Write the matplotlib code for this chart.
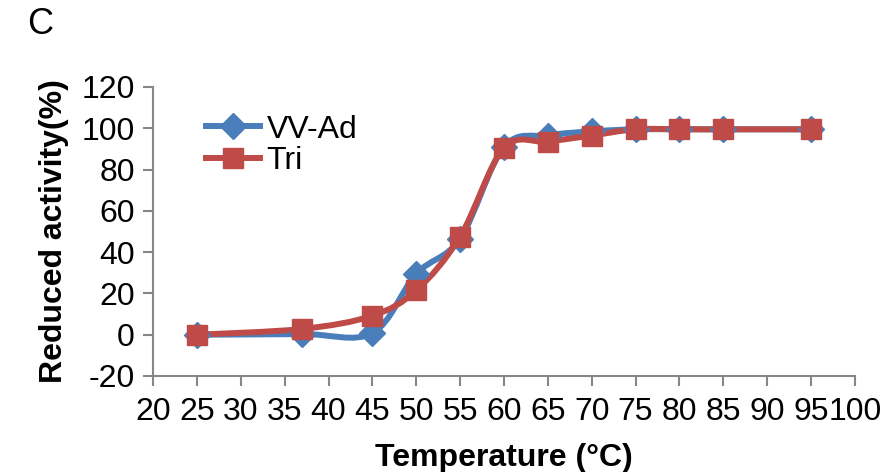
import numpy as np
import matplotlib
matplotlib.use("Agg")
import matplotlib.pyplot as plt
from matplotlib.path import Path
from matplotlib.patches import PathPatch
from matplotlib.lines import Line2D

plt.rcParams['font.family'] = ['Liberation Sans', 'DejaVu Sans']
plt.rcParams['axes.unicode_minus'] = False

temps = [25, 37, 45, 50, 55, 60, 65, 70, 75, 80, 85, 95]
vv_ad = [0, 0.3, 0.8, 29.5, 46.5, 91, 96.5, 98.5, 99.5, 99.5, 99.5, 99.5]
tri = [0, 2.8, 9.2, 21.5, 47.5, 90.5, 93.5, 96.5, 99.5, 99.5, 99.5, 99.5]

blue = "#4A7EBB"
red = "#BE4B48"
fs = 23


def smooth_path(x, y):
    # Excel-like smoothed line: cubic Bezier through the points
    pts = np.column_stack([x, y]).astype(float)
    n = len(pts)
    verts = [pts[0]]
    codes = [Path.MOVETO]
    for i in range(n - 1):
        p0 = pts[i - 1] if i > 0 else pts[i]
        p1 = pts[i]
        p2 = pts[i + 1]
        p3 = pts[i + 2] if i + 2 < n else pts[i + 1]
        c1 = p1 + (p2 - p0) / 6.0
        c2 = p2 - (p3 - p1) / 6.0
        verts += [c1, c2, p2]
        codes += [Path.CURVE4] * 3
    return Path(verts, codes)


fig = plt.figure(figsize=(8.86, 4.72), dpi=100)
ax = fig.add_axes([0.1727, 0.2034, 0.7923, 0.6123])

lw = 4.3
for ys, col, mk, ms in [(vv_ad, blue, "D", 13), (tri, red, "s", 15)]:
    ax.add_patch(PathPatch(smooth_path(temps, ys), facecolor="none", edgecolor=col,
                           lw=lw, capstyle="round", joinstyle="round"))
    ax.plot(temps, ys, linestyle="none", marker=mk, markersize=ms, color=col)

handles = [Line2D([], [], color=blue, lw=lw, marker="D", markersize=13),
           Line2D([], [], color=red, lw=lw, marker="s", markersize=15)]
ax.legend(handles, ["VV-Ad", "Tri"], loc="upper left", bbox_to_anchor=(0.05, 0.965),
          frameon=False, fontsize=fs, handlelength=1.7, handletextpad=0.2,
          labelspacing=0.05, borderaxespad=0.15)

ax.set_xlim(20, 100)
ax.set_ylim(-20, 120)
ax.set_xticks(np.arange(20, 101, 5))
ax.set_yticks(np.arange(-20, 121, 20))
ax.tick_params(labelsize=fs, colors="#868686", labelcolor="black", width=1.5, length=7)
ax.tick_params(axis="x", pad=8)
ax.tick_params(axis="y", pad=6)
for s in ["top", "right"]:
    ax.spines[s].set_visible(False)
for s in ["left", "bottom"]:
    ax.spines[s].set_color("#868686")
    ax.spines[s].set_linewidth(1.5)

ax.set_xlabel("Temperature (°C)", fontsize=fs, fontweight="bold", labelpad=12)
ax.set_ylabel("Reduced activity(%)", fontsize=fs, fontweight="bold", labelpad=9)
fig.text(0.031, 0.948, "C", fontsize=26, va="center", ha="left")

fig.savefig("out.png", dpi=100)
